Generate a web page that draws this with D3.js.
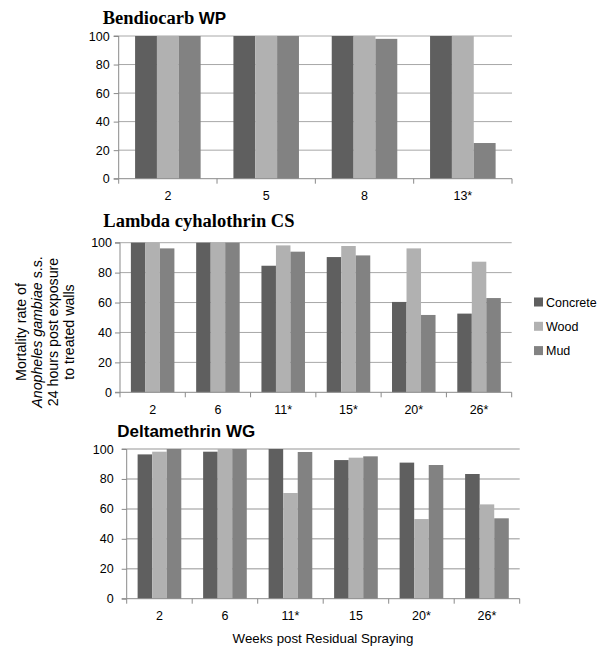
<!DOCTYPE html>
<html><head><meta charset="utf-8">
<script src="https://cdn.jsdelivr.net/npm/d3@7"></script>
<style>body{margin:0;background:#fff}svg{display:block}</style>
</head><body>
<svg id="c" width="600" height="654"></svg>
<script>
// ---- data ----
const series = ["Concrete", "Wood", "Mud"];
const seriesColors = ["#5f5f5f", "#b1b1b1", "#828282"];
const yTicks = [0, 20, 40, 60, 80, 100];

const bendCats = ["2", "5", "8", "13*"];
const bendConcrete = [100, 100, 100, 100];
const bendWood = [100, 100, 100, 100];
const bendMud = [100, 100, 98, 25];

const lambdaCats = ["2", "6", "11*", "15*", "20*", "26*"];
const lambdaConcrete = [100, 100, 84.6, 90.4, 60.4, 52.6];
const lambdaWood = [100, 100, 98.2, 97.8, 96.2, 87.3];
const lambdaMud = [96.2, 100, 94, 91.5, 51.7, 63];

const deltaCats = ["2", "6", "11*", "15", "20*", "26*"];
const deltaConcrete = [96.4, 98.2, 100, 92.6, 90.9, 83.3];
const deltaWood = [98.2, 100, 70.6, 94.2, 53.2, 63];
const deltaMud = [100, 100, 98, 95.1, 89.3, 53.7];

const svg = d3.select("#c");
const sans = "'Liberation Sans', Arial, sans-serif";
const serif = "'Liberation Serif', 'Times New Roman', serif";

function panel(cfg) {
  const g = svg.append("g");
  const x = d3.scaleBand().domain(cfg.cats).range([cfg.left, cfg.right]).paddingInner(0).paddingOuter(0);
  const gapFrac = 1.5 / 4.5; // Excel gap width 150%
  const x1 = d3.scaleBand().domain(series).range([x.bandwidth() * gapFrac / 2, x.bandwidth() * (1 - gapFrac / 2)]).padding(0);
  const y = d3.scaleLinear().domain([0, 100]).range([cfg.bottom, cfg.top]);

  g.selectAll("line.grid").data(yTicks.filter(d => d > 0)).enter().append("line")
    .attr("x1", cfg.left).attr("x2", cfg.right)
    .attr("y1", d => y(d)).attr("y2", d => y(d))
    .attr("stroke", cfg.gridColor).attr("stroke-width", cfg.gridWidth);

  const rows = cfg.cats.map((c, i) => ({ cat: c, vals: [cfg.data[0][i], cfg.data[1][i], cfg.data[2][i]] }));
  const grp = g.selectAll("g.cat").data(rows).enter().append("g")
    .attr("transform", d => `translate(${x(d.cat)},0)`);
  grp.selectAll("rect").data(d => d.vals.map((v, k) => ({ s: series[k], v, k }))).enter().append("rect")
    .attr("x", d => x1(d.s)).attr("width", x1.bandwidth())
    .attr("y", d => y(d.v)).attr("height", d => y(0) - y(d.v))
    .attr("fill", d => seriesColors[d.k]);

  const ya = d3.axisLeft(y).tickValues(yTicks).tickSize(5).tickPadding(cfg.tickPad).tickFormat(d3.format("d"));
  const yg = g.append("g").attr("transform", `translate(${cfg.left},0)`).call(ya);
  yg.select(".domain").attr("stroke", "#8a8a8a").attr("d", `M-5,${cfg.bottom}H0V${cfg.top}H-5`);
  yg.selectAll(".tick line").attr("stroke", "#8a8a8a");
  yg.selectAll("text").attr("font-family", sans).attr("font-size", 12.5).attr("fill", "#000");

  const xg = g.append("g").attr("transform", `translate(0,${cfg.bottom})`);
  xg.append("line").attr("x1", cfg.left).attr("x2", cfg.right).attr("stroke", "#8a8a8a");
  const bounds = cfg.cats.map(c => x(c)).concat([cfg.right]);
  xg.selectAll("line.t").data(bounds).enter().append("line")
    .attr("x1", d => d).attr("x2", d => d).attr("y1", 0).attr("y2", 5).attr("stroke", "#8a8a8a");
  xg.selectAll("text").data(cfg.cats).enter().append("text")
    .attr("x", d => x(d) + x.bandwidth() / 2).attr("y", cfg.labelY - cfg.bottom + 4.5)
    .attr("text-anchor", "middle").attr("font-family", sans).attr("font-size", 12.5).text(d => d);

  const t = g.append("text").attr("x", cfg.titleX).attr("y", cfg.titleY).attr("font-weight", "bold");
  cfg.title.forEach(p => t.append("tspan").attr("font-family", p.serif ? serif : sans).attr("font-size", p.size).text(p.text));
}

panel({
  cats: bendCats, data: [bendConcrete, bendWood, bendMud],
  left: 118.7, right: 512, top: 36, bottom: 178.7, labelY: 196, tickPad: 4,
  gridColor: "#a8a8a8", gridWidth: 1,
  titleX: 102.7, titleY: 23.5,
  title: [{ text: "Bendiocarb ", serif: true, size: 18.5 }, { text: "WP", serif: false, size: 17 }]
});
panel({
  cats: lambdaCats, data: [lambdaConcrete, lambdaWood, lambdaMud],
  left: 120, right: 511.7, top: 242.7, bottom: 392.3, labelY: 410, tickPad: 3,
  gridColor: "#a8a8a8", gridWidth: 1,
  titleX: 103.3, titleY: 227,
  title: [{ text: "Lambda cyhalothrin CS", serif: true, size: 18.5 }]
});
panel({
  cats: deltaCats, data: [deltaConcrete, deltaWood, deltaMud],
  left: 126.7, right: 519.7, top: 449, bottom: 598.7, labelY: 616, tickPad: 8,
  gridColor: "#b8b8b8", gridWidth: 1.5,
  titleX: 117.3, titleY: 437,
  title: [{ text: "Deltamethrin WG", serif: false, size: 17 }]
});

svg.append("text").attr("x", 323).attr("y", 642.5).attr("text-anchor", "middle")
  .attr("font-family", sans).attr("font-size", 13.3).text("Weeks post Residual Spraying");

const yl = svg.append("text").attr("transform", "translate(0,332) rotate(-90)")
  .attr("text-anchor", "middle").attr("font-family", sans).attr("font-size", 14.2);
yl.append("tspan").attr("x", 0).attr("y", 26).text("Mortality rate of");
const l2 = yl.append("tspan").attr("x", 0).attr("y", 42);
l2.append("tspan").attr("font-style", "italic").text("Anopheles gambiae");
l2.append("tspan").text(" s.s.");
yl.append("tspan").attr("x", 0).attr("y", 58).text("24 hours post exposure");
yl.append("tspan").attr("x", 0).attr("y", 74).text("to treated walls");

const lg = svg.append("g").selectAll("g").data(series).enter().append("g")
  .attr("transform", (d, i) => `translate(534,${302 + i * 24.3})`);
lg.append("rect").attr("x", 0).attr("y", -4.5).attr("width", 9).attr("height", 9).attr("fill", (d, i) => seriesColors[i]);
lg.append("text").attr("x", 12).attr("y", 4.5).attr("font-family", sans).attr("font-size", 12.5).text(d => d);
</script>
</body></html>
